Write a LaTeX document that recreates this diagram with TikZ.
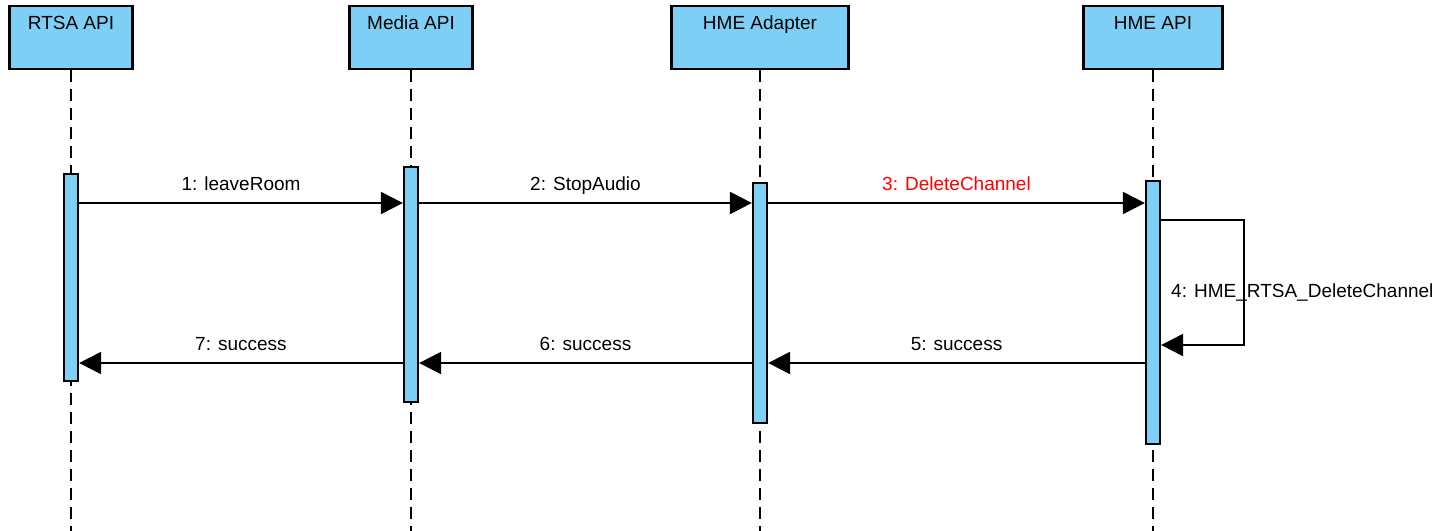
\documentclass[tikz,border=0pt]{standalone}
\usepackage{fontspec}
\setmainfont{Liberation Sans}
\usetikzlibrary{arrows.meta}
\definecolor{lblue}{RGB}{125,207,245}
\definecolor{msgred}{RGB}{255,0,0}
\begin{document}
\begin{tikzpicture}[x=1pt,y=-1pt,
  headbox/.style={draw=black,fill=lblue,line width=2.3pt,minimum height=63pt,inner sep=0pt},
  headtext/.style={anchor=base,inner sep=0pt,font=\fontsize{19}{22}\selectfont},
  bar/.style={draw=black,fill=lblue,line width=2.3pt,minimum width=14pt,inner sep=0pt},
  life/.style={line width=2.3pt,dash pattern=on 12pt off 7pt},
  msg/.style={line width=2.3pt,-{Triangle[length=22pt,width=22pt]}},
  lbl/.style={anchor=base,inner sep=0pt,font=\fontsize{19}{22}\selectfont},
]
\useasboundingbox (0,0) rectangle (1445,530);
% headers
\node[headbox,minimum width=123pt] (h1) at (71,37.5) {};
\node[headbox,minimum width=123pt] (h2) at (411,37.5) {};
\node[headbox,minimum width=177pt] (h3) at (760,37.5) {};
\node[headbox,minimum width=139pt] (h4) at (1153,37.5) {};
\node[headtext] (t1) at (h1.north |- 0,29) {RTSA API};
\node[headtext] (t2) at (h2.north |- 0,29) {Media API};
\node[headtext] (t3) at (h3.north |- 0,29) {HME Adapter};
\node[headtext] (t4) at (h4.north |- 0,29) {HME API};
% lifeline ends
\coordinate (e1) at (71,531);
\coordinate (e2) at (411,531);
\coordinate (e3) at (760,531);
\coordinate (e4) at (1153,531);
\draw[life] (h1.south) -- (e1);
\draw[life] (h2.south) -- (e2);
\draw[life] (h3.south) -- (e3);
\draw[life] (h4.south) -- (e4);
% activation bars
\node[bar,minimum height=207pt] (b1) at (71,277.5) {};
\node[bar,minimum height=235pt] (b2) at (411,284.5) {};
\node[bar,minimum height=240pt] (b3) at (760,303) {};
\node[bar,minimum height=263pt] (b4) at (1153,312.5) {};
% messages
\draw[msg] (b1.east |- 0,203) -- node[lbl,yshift=13pt] (m1) {1: leaveRoom} (b2.west |- 0,203);
\draw[msg] (b2.east |- 0,203) -- node[lbl,yshift=13pt] (m2) {2: StopAudio} (b3.west |- 0,203);
\draw[msg] (b3.east |- 0,203) -- node[lbl,yshift=13pt,text=msgred] (m3) {3: DeleteChannel} (b4.west |- 0,203);
% self message
\node[lbl,anchor=base west] (m4) at (1171,297) {4: HME\_RTSA\_DeleteChannel};
\coordinate (s1) at (1244,220);
\coordinate (s2) at (1244,345);
\draw[msg] (b4.east |- 0,220) -- (s1) -- (s2) -- (b4.east |- 0,345);
% returns
\draw[msg] (b4.west |- 0,363) -- node[lbl,yshift=13pt] (m5) {5: success} (b3.east |- 0,363);
\draw[msg] (b3.west |- 0,363) -- node[lbl,yshift=13pt] (m6) {6: success} (b2.east |- 0,363);
\draw[msg] (b2.west |- 0,363) -- node[lbl,yshift=13pt] (m7) {7: success} (b1.east |- 0,363);
\end{tikzpicture}
\end{document}
